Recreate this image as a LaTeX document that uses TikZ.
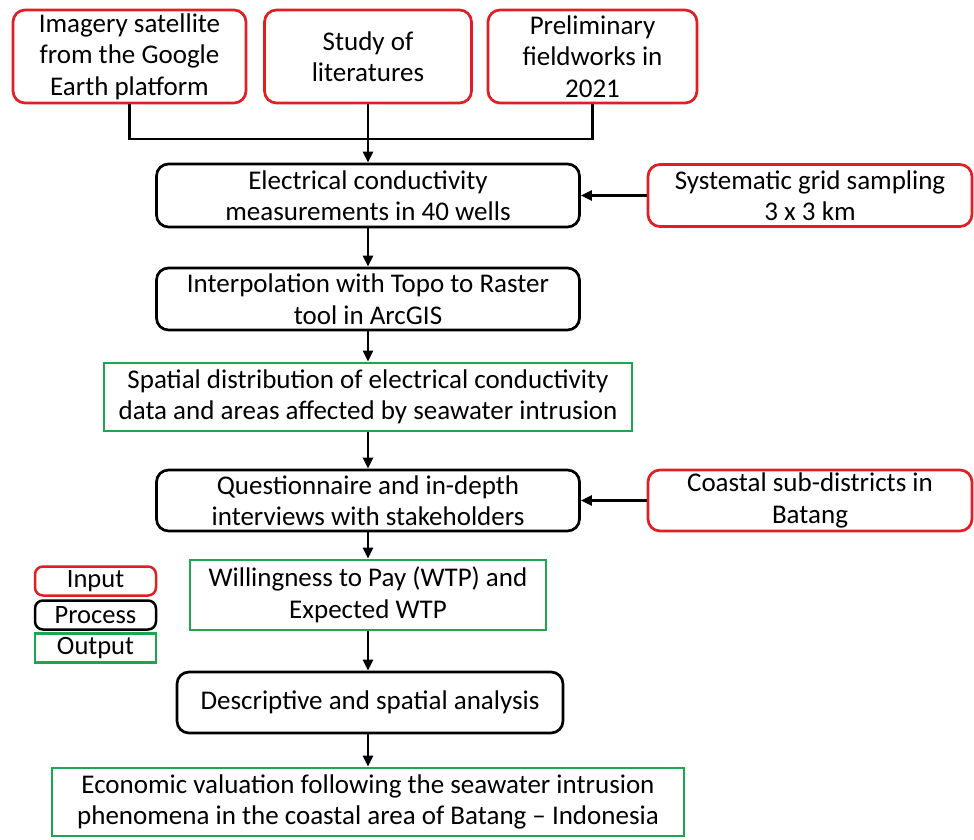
\documentclass[tikz,border=0pt]{standalone}
\usepackage{fontspec}
\setmainfont{Carlito}
\usetikzlibrary{arrows.meta}
\definecolor{inred}{RGB}{225,30,35}
\definecolor{outgreen}{RGB}{30,165,80}
\begin{document}
\begin{tikzpicture}[x=1pt,y=-1pt,
 base/.style={line width=2.7pt, align=center, font=\fontsize{27}{31.5}\selectfont, inner sep=0pt, anchor=center},
 inbox/.style={base, draw=inred, rounded corners=12pt},
 procbox/.style={base, draw=black, rounded corners=12pt},
 outbox/.style={base, draw=outgreen},
 legbox/.style={line width=2.5pt, minimum width=121pt, minimum height=29pt, inner sep=0pt, font=\fontsize{26.5}{28}\selectfont},
 conn/.style={line width=2.3pt},
 arr/.style={conn, -{Triangle[length=11pt,width=10pt]}},
]
\useasboundingbox (0,0) rectangle (974,839);
\node[inbox, minimum width=233pt, minimum height=93pt] (b1) at (129.5,56.5) {Imagery satellite\\from the Google\\Earth platform};
\node[inbox, minimum width=207pt, minimum height=93pt] (b2) at (368,56.5) {Study of\\literatures};
\node[inbox, minimum width=209pt, minimum height=93pt] (b3) at (592.5,56.5) {Preliminary\\fieldworks in\\2021};
\node[procbox, minimum width=423pt, minimum height=63pt] (b4) at (368,195.5) {Electrical conductivity\\measurements in 40 wells};
\node[inbox, minimum width=324pt, minimum height=62pt] (b5) at (810,195.5) {Systematic grid sampling\\3 x 3 km};
\node[procbox, minimum width=423pt, minimum height=62pt] (b6) at (368,299) {Interpolation with Topo to Raster\\tool in ArcGIS};
\node[outbox, minimum width=528pt, minimum height=68pt] (b7) at (368,397) {Spatial distribution of electrical conductivity\\data and areas affected by seawater intrusion};
\node[procbox, minimum width=423pt, minimum height=61pt] (b8) at (368,500.5) {Questionnaire and in-depth\\interviews with stakeholders};
\node[inbox, minimum width=324pt, minimum height=61pt] (b9) at (810,500.5) {Coastal sub-districts in\\Batang};
\node[outbox, minimum width=356pt, minimum height=70pt] (b10) at (368,595) {Willingness to Pay (WTP) and\\Expected WTP};
\node[procbox, minimum width=386pt, minimum height=61pt] (b11) at (370,702.5) {Descriptive and spatial analysis};
\node[outbox, minimum width=632pt, minimum height=68pt] (b12) at (368,802) {Economic valuation following the seawater intrusion\\phenomena in the coastal area of Batang -- Indonesia};
\node[legbox, draw=inred, rounded corners=8pt] (lin) at (95.5,581) {Input};
\node[legbox, draw=black, rounded corners=8pt] (lpr) at (95.5,615) {Process};
\node[legbox, draw=outgreen] (lout) at (95.5,648) {Output};
\coordinate (j) at (368,139);
\draw[conn] (b1.south) |- (j) -| (b3.south);
\draw[arr] (b2.south) -- (b4.north);
\draw[arr] (b5.west) -- (b4.east);
\draw[arr] (b4.south) -- (b6.north);
\draw[arr] (b6.south) -- (b7.north);
\draw[arr] (b7.south) -- (b8.north);
\draw[arr] (b9.west) -- (b8.east);
\draw[arr] (b8.south) -- (b10.north);
\draw[arr] (b10.south) -- (b11.north -| b10.south);
\draw[arr] (b11.south -| b12.north) -- (b12.north);
\end{tikzpicture}
\end{document}
